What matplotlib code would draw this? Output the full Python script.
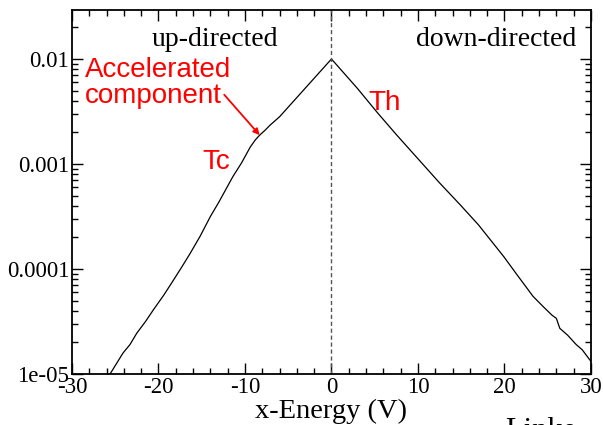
import numpy as np
from matplotlib import pyplot as plt
from matplotlib.ticker import MultipleLocator, LogLocator, NullFormatter

plt.rcParams['axes.unicode_minus'] = False

# x-energy distribution, up-directed (negative) and down-directed (positive) halves
energy_up = [-25.6, -24.1, -23.3, -22.5, -21.5, -20.6, -19.4, -18.3, -17.3, -16.4,
             -15.2, -14.0, -13.0, -12.2, -11.4, -10.4, -9.4, -8.8, -8.3, -7.7,
             -7.1, -6.0, -4.8, -3.6, -2.4, -1.2, 0.0]
log_flux_up = [-5.00, -4.80, -4.72, -4.61, -4.50, -4.39, -4.25, -4.11, -3.98, -3.86,
               -3.69, -3.50, -3.36, -3.24, -3.12, -2.99, -2.84, -2.77, -2.725, -2.68,
               -2.63, -2.55, -2.44, -2.33, -2.22, -2.11, -2.00]

energy_down = [0.0, 1.5, 3.0, 5.3, 7.5, 10.0, 12.5, 14.9, 17.0, 19.9, 21.5, 23.3,
               24.5, 25.5, 26.0, 26.4, 27.3, 28.3, 29.0, 30.0]
log_flux_down = [-2.00, -2.14, -2.28, -2.51, -2.72, -2.95, -3.18, -3.39, -3.58, -3.88,
                 -4.06, -4.26, -4.36, -4.44, -4.47, -4.565, -4.63, -4.72, -4.77, -4.88]

x = np.array(energy_up + energy_down[1:])
f = 10.0 ** np.array(log_flux_up + log_flux_down[1:])

fig = plt.figure(figsize=(6.03, 4.25), dpi=100)
ax = fig.add_axes([0.1194, 0.12, 0.8606, 0.8565])

ax.plot(x, f, color='black', lw=0.9)
ax.axvline(0, color='#555555', lw=1.0, ls=(0, (3, 2)))

ax.set_yscale('log')
ax.set_xlim(-30, 30)
ax.set_ylim(1e-5, 0.0293)

serif = ['Liberation Serif', 'DejaVu Serif']
sans = ['Liberation Sans', 'DejaVu Sans']

ax.xaxis.set_major_locator(MultipleLocator(10))
ax.xaxis.set_minor_locator(MultipleLocator(2))
ax.set_yticks([1e-5, 1e-4, 1e-3, 1e-2])
ax.set_yticklabels(['1e-05', '0.0001', '0.001', '0.01'])
ax.yaxis.set_minor_locator(LogLocator(base=10, subs=np.arange(2, 10)))
ax.yaxis.set_minor_formatter(NullFormatter())

ax.tick_params(which='both', direction='in', top=True, right=True, width=1.0)
ax.tick_params(which='major', length=8, labelsize=16.5, pad=2)
ax.tick_params(which='minor', length=4.5)
for lab in ax.get_xticklabels() + ax.get_yticklabels():
    lab.set_family(serif)
for sp in ax.spines.values():
    sp.set_linewidth(1.3)

ax.set_xlabel('x-Energy (V)', family=serif, fontsize=20.5, labelpad=1)

ax.text(0.275, 0.92, 'up-directed', transform=ax.transAxes, ha='center', va='center',
        family=serif, fontsize=20)
ax.text(0.972, 0.92, 'down-directed', transform=ax.transAxes, ha='right', va='center',
        family=serif, fontsize=20)

# label and arrow pointing at the shoulder of the up-directed side
ax.text(-28.5, 10 ** -2.23, 'Accelerated\ncomponent', ha='left', va='center', color='red',
        family=sans, fontsize=20, linespacing=1.02)
ax.annotate('', xy=(-8.3, 10 ** -2.725), xytext=(-12.4, 10 ** -2.34),
            arrowprops=dict(arrowstyle='-|>', color='red', lw=1.3, mutation_scale=9,
                            shrinkA=0, shrinkB=0))
ax.text(-13.35, 10 ** -2.98, 'Tc', color='red', family=sans, fontsize=20, ha='center', va='center')
ax.text(6.1, 10 ** -2.42, 'Th', color='red', family=sans, fontsize=20, ha='center', va='center')

fig.text(505 / 603, 1 - 417 / 425, 'Linke', family=serif, fontsize=22, ha='left', va='top')

fig.savefig('out.png', dpi=100)
